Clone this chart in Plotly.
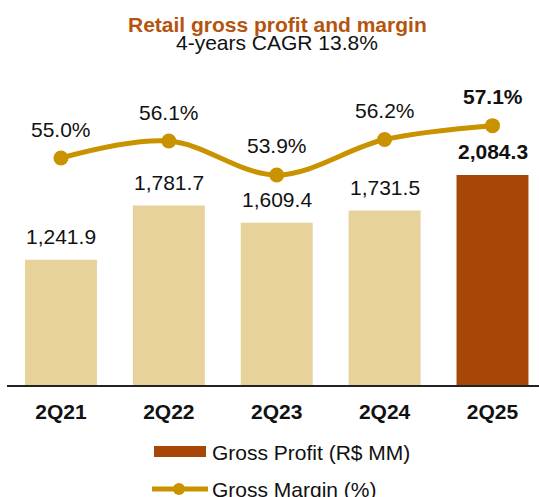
import plotly.graph_objects as go

categories = ["2Q21", "2Q22", "2Q23", "2Q24", "2Q25"]
gross_profit = [1241.9, 1781.7, 1609.4, 1731.5, 2084.3]
gross_margin = [55.0, 56.1, 53.9, 56.2, 57.1]
profit_labels = ["1,241.9", "1,781.7", "1,609.4", "1,731.5", "2,084.3"]
margin_labels = ["55.0%", "56.1%", "53.9%", "56.2%", "57.1%"]

TAN = "#E8D29C"
DARK = "#A84607"
GOLD = "#C99300"
TITLE_C = "#B4550F"
FONT = "Liberation Sans, Arial, sans-serif"
FS = 21

W, H = 539, 497
ML, MR, MT, MB = 7, 0, 70, 112
PH = H - MT - MB

def py(p):  # pixel y -> paper y
    return (H - MB - p) / PH

def px(p):  # pixel x -> paper x
    return (p - ML) / (W - ML - MR)

bar_colors = [TAN] * (len(categories) - 1) + [DARK]

fig = go.Figure()
fig.add_trace(go.Bar(
    x=categories, y=gross_profit, marker=dict(color=bar_colors, line=dict(width=0)),
    name="Gross Profit (R$ MM)", showlegend=False, hoverinfo="skip"))
fig.add_trace(go.Scatter(
    x=categories, y=gross_margin, yaxis="y2", mode="lines+markers",
    line=dict(color=GOLD, width=5, shape="spline", smoothing=1.0),
    marker=dict(color=GOLD, size=15), name="Gross Margin (%)",
    showlegend=False, hoverinfo="skip"))

annotations = []
last = len(categories) - 1
for i, (c, v, t) in enumerate(zip(categories, gross_profit, profit_labels)):
    txt = f"<b>{t}</b>" if i == last else t
    annotations.append(dict(x=c, y=v, xref="x", yref="y", text=txt, showarrow=False,
                            yanchor="middle", yshift=23,
                            font=dict(family=FONT, size=FS, color="#111111")))
for i, (c, v, t) in enumerate(zip(categories, gross_margin, margin_labels)):
    txt = f"<b>{t}</b>" if i == last else t
    annotations.append(dict(x=c, y=v, xref="x", yref="y2", text=txt, showarrow=False,
                            yanchor="middle", yshift=29,
                            font=dict(family=FONT, size=FS, color="#111111")))

# title & subtitle
annotations.append(dict(x=px(277.5), y=py(24), xref="paper", yref="paper",
                        text="<b>Retail gross profit and margin</b>", showarrow=False,
                        xanchor="center", yanchor="middle",
                        font=dict(family=FONT, size=FS, color=TITLE_C)))
annotations.append(dict(x=px(277), y=py(42.5), xref="paper", yref="paper",
                        text="4-years CAGR 13.8%", showarrow=False,
                        xanchor="center", yanchor="middle",
                        font=dict(family=FONT, size=FS, color="#111111")))

# custom legend
annotations.append(dict(x=px(210), y=py(452), xref="paper", yref="paper",
                        text="Gross Profit (R$ MM)", showarrow=False,
                        xanchor="left", yanchor="middle",
                        font=dict(family=FONT, size=FS, color="#111111")))
annotations.append(dict(x=px(210), y=py(489), xref="paper", yref="paper",
                        text="Gross Margin (%)", showarrow=False,
                        xanchor="left", yanchor="middle",
                        font=dict(family=FONT, size=FS, color="#111111")))

shapes = [
    dict(type="rect", xref="paper", yref="paper",
         x0=px(154), x1=px(206), y0=py(446), y1=py(457),
         fillcolor=DARK, line=dict(width=0)),
    dict(type="line", xref="paper", yref="paper",
         x0=px(152), x1=px(208), y0=py(489), y1=py(489),
         line=dict(color=GOLD, width=5)),
    dict(type="circle", xref="paper", yref="paper",
         x0=px(173), x1=px(185), y0=py(483), y1=py(495),
         fillcolor=GOLD, line=dict(width=0)),
]

fig.update_layout(
    width=W, height=H,
    margin=dict(l=ML, r=MR, t=MT, b=MB),
    paper_bgcolor="white", plot_bgcolor="white",
    bargap=0.333,
    showlegend=False,
    font=dict(family=FONT, size=FS, color="#111111"),
    xaxis=dict(range=[-0.5, 4.431], showgrid=False, zeroline=False,
               showline=True, linecolor="#222222", linewidth=2,
               ticks="", tickfont=dict(family=FONT, size=FS, color="#111111", weight="bold"),
               ticklabelstandoff=7, fixedrange=True),
    yaxis=dict(range=[0, PH / 0.1008], visible=False, fixedrange=True),
    yaxis2=dict(range=[40.26, 40.26 + PH / 15.4], overlaying="y", side="right",
                visible=False, fixedrange=True),
    annotations=annotations,
    shapes=shapes,
)

fig.write_html("out.html", config={"displayModeBar": False},
               post_script="document.body.style.margin='0';document.body.style.overflow='hidden';")
